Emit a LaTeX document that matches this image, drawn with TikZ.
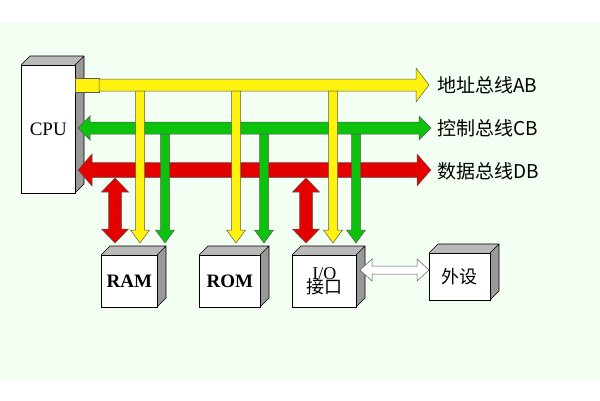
\documentclass[tikz,border=0pt]{standalone}
\usepackage{fontspec}
\setmainfont{Liberation Serif}
\newfontfamily\cjk{Noto Sans CJK SC}
\newfontfamily\cjkserif{Noto Sans CJK SC Light}
\newcommand\cubebox[6]{% name, x1,y1,x2,y2, text
  \fill[gray!55] (#2,#3) -- ++(9,-9) -- (#4+9,#3-9) -- (#4,#3) -- cycle;
  \fill[gray!80] (#4,#3) -- ++(9,-9) -- (#4+9,#5-9) -- (#4,#5) -- cycle;
  \draw[line width=0.6pt] (#2,#3) -- ++(9,-9) -- (#4+9,#3-9) -- (#4+9,#5-9) -- (#4,#5) (#4,#3) -- ++(9,-9);
  \node[draw,fill=white,line width=0.6pt,minimum width=#4-#2,minimum height=#5-#3,anchor=north west,inner sep=0pt,align=center] (#1) at (#2,#3) {#6};
}
\newcommand\rarrow[7]{\filldraw[fill=#7,arr] (#1,#3-#4) -- (#2-#6,#3-#4) -- (#2-#6,#3-#5) -- (#2,#3) -- (#2-#6,#3+#5) -- (#2-#6,#3+#4) -- (#1,#3+#4) -- cycle;}
\newcommand\lrarrow[7]{\filldraw[fill=#7,arr] (#1,#3) -- (#1+#6,#3-#5) -- (#1+#6,#3-#4) -- (#2-#6,#3-#4) -- (#2-#6,#3-#5) -- (#2,#3) -- (#2-#6,#3+#5) -- (#2-#6,#3+#4) -- (#1+#6,#3+#4) -- (#1+#6,#3+#5) -- cycle;}
\newcommand\darrow[7]{\filldraw[fill=#7,arr] (#3-#4,#1) -- (#3-#4,#2-#6) -- (#3-#5,#2-#6) -- (#3,#2) -- (#3+#5,#2-#6) -- (#3+#4,#2-#6) -- (#3+#4,#1) -- cycle;}
\newcommand\udarrow[7]{\filldraw[fill=#7,arr] (#3,#1) -- (#3+#5,#1+#6) -- (#3+#4,#1+#6) -- (#3+#4,#2-#6) -- (#3+#5,#2-#6) -- (#3,#2) -- (#3-#5,#2-#6) -- (#3-#4,#2-#6) -- (#3-#4,#1+#6) -- (#3-#5,#1+#6) -- cycle;}
\colorlet{byel}{yellow!95!white}
\colorlet{bgrn}{green!75!black!95}
\colorlet{bred}{red!90!black}
\tikzset{
  arr/.style={draw=black!65,line width=0.5pt,line join=miter},
  lab/.style={anchor=west,font=\cjk\fontsize{19}{19}\selectfont,inner sep=0pt}
}
\begin{document}
\begin{tikzpicture}[x=1pt,y=-1pt]
\useasboundingbox (0,0) rectangle (600,400);
\fill[white] (0,0) rectangle (600,400);
\fill[green!5!white] (0,22) rectangle (600,380);
\cubebox{cpu}{21}{65}{75}{193}{\fontsize{19}{19}\selectfont CPU}
\lrarrow{78}{431}{170}{7.5}{16}{14}{bred}
\lrarrow{78}{431}{128}{6}{12}{12}{bgrn}
\filldraw[fill=byel,arr] (75,78) rectangle (99,92);
\rarrow{99}{429}{85}{6}{17}{13}{byel}
\node[lab] (lab) at (437,85) {地址总线AB};
\node[lab] (lcb) at (437,128) {控制总线CB};
\node[lab] (ldb) at (437,171) {数据总线DB};
\foreach \x in {165,264,356} {\darrow{134}{243}{\x}{4.5}{9.5}{13}{bgrn}}
\foreach \x in {140,236,333} {\darrow{91}{243}{\x}{4.5}{9.5}{13}{byel}}
\foreach \x in {115,306} {\udarrow{178}{243}{\x}{6.5}{13.5}{14}{bred}}
\cubebox{ram}{101}{255}{157}{307}{\fontsize{19}{19}\selectfont\bfseries RAM}
\cubebox{rom}{199}{255}{260}{307}{\fontsize{19}{19}\selectfont\bfseries ROM}
\cubebox{io}{292}{255}{356}{307}{\fontsize{18}{19}\selectfont I/O\\[-2pt]{\cjk\fontsize{18}{19}\selectfont 接口}}
\cubebox{ext}{429}{253}{490}{300}{\cjk\fontsize{18}{18}\selectfont 外设}
\lrarrow{360}{429}{270}{4}{11}{12}{white}
\end{tikzpicture}
\end{document}
